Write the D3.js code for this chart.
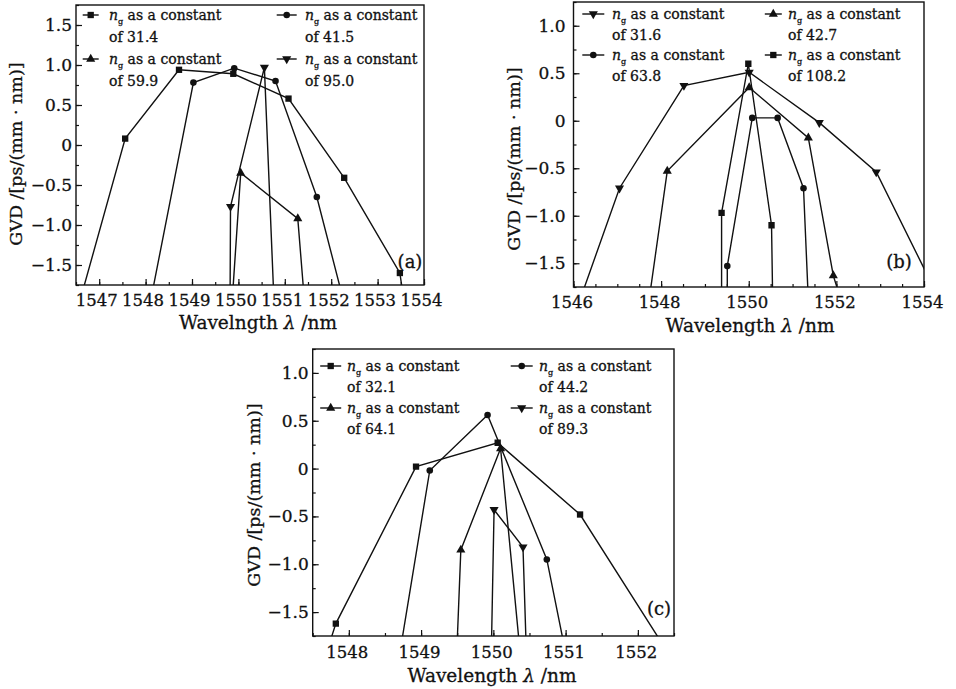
<!DOCTYPE html>
<html>
<head>
<meta charset="utf-8">
<script src="https://cdnjs.cloudflare.com/ajax/libs/d3/7.8.5/d3.min.js"></script>
<style>
body { margin: 0; background: #fff; }
svg { font-family: "DejaVu Serif", serif; }
svg text { stroke: #111; stroke-width: 0.3px; }
</style>
</head>
<body>
<script>
// ---- data (points below -1.75 are the clipped line ends) ----

// panel (a)
var ngA = ["31.4", "41.5", "59.9", "95.0"];
var wlA = [
    [1546.56, 1547.56, 1548.72, 1549.89, 1551.08, 1552.28, 1553.48, 1553.58],
    [1548.09, 1549.03, 1549.91, 1550.80, 1551.69, 1552.29],
    [1549.86, 1550.05, 1551.28, 1551.43],
    [1549.82, 1549.83, 1550.56, 1550.77]
];
var gvdA = [
    [-2.0, 0.08, 0.94, 0.89, 0.58, -0.41, -1.60, -2.0],
    [-2.0, 0.78, 0.96, 0.80, -0.65, -2.0],
    [-2.0, -0.35, -0.92, -2.0],
    [-2.0, -0.77, 0.97, -2.0]
];
var xTicksA = [1547, 1548, 1549, 1550, 1551, 1552, 1553, 1554];
var yTicksA = [-1.5, -1.0, -0.5, 0, 0.5, 1.0, 1.5];

// panel (b)
var ngB = ["31.6", "42.7", "63.8", "108.2"];
var wlB = [
    [1546.06, 1547.05, 1548.52, 1550.01, 1551.61, 1552.91, 1554.48],
    [1547.69, 1548.14, 1550.01, 1551.36, 1551.93, 1552.18],
    [1549.51, 1549.51, 1550.08, 1550.66, 1551.25, 1551.37],
    [1549.38, 1549.38, 1549.99, 1550.52, 1550.55]
];
var gvdB = [
    [-2.0, -0.71, 0.37, 0.51, -0.02, -0.54, -2.0],
    [-2.0, -0.53, 0.35, -0.18, -1.63, -2.0],
    [-2.0, -1.53, 0.03, 0.03, -0.71, -2.0],
    [-2.0, -0.97, 0.60, -1.10, -2.0]
];
var xTicksB = [1546, 1548, 1550, 1552, 1554];
var yTicksB = [-1.5, -1.0, -0.5, 0, 0.5, 1.0];

// panel (c)
var ngC = ["32.1", "44.2", "64.1", "89.3"];
var wlC = [
    [1547.66, 1547.82, 1548.93, 1550.06, 1551.20, 1552.48],
    [1548.69, 1549.12, 1549.92, 1550.74, 1551.02],
    [1549.49, 1549.55, 1550.10, 1550.38],
    [1549.97, 1550.01, 1550.41, 1550.46]
];
var gvdC = [
    [-2.0, -1.62, 0.02, 0.27, -0.48, -2.0],
    [-2.0, -0.02, 0.56, -0.95, -2.0],
    [-2.0, -0.85, 0.21, -2.0],
    [-2.0, -0.43, -0.82, -2.0]
];
var xTicksC = [1548, 1549, 1550, 1551, 1552];
var yTicksC = [-1.5, -1.0, -0.5, 0, 0.5, 1.0];

// ---- layout ----
var svg = d3.select('body').append('svg')
    .attr('width', 956)
    .attr('height', 689)

var ink = "#111";

var panels = [
    { id: "a", ng: ngA, wl: wlA, gvd: gvdA, xt: xTicksA, yt: yTicksA,
      left: 76, top: 5, right: 424, bottom: 285, xdom: [1546.5, 1554], ydom: [-1.75, 1.75],
      sym: ["square", "circle", "up", "down"], xTitle: "Wavelngth", titleX: 258, titleY: 329,
      xPad: 9, yPad: 4, labDx: -3, yTitleX: 16, yTitleY: 154, tag: [410, 262],
      legX: [90.7, 286.7], legHalf: [8, 10], legTx: [109, 305], legY: [15, 59], legGap: 21.5 },
    { id: "b", ng: ngB, wl: wlB, gvd: gvdB, xt: xTicksB, yt: yTicksB,
      left: 573.5, top: 2, right: 924, bottom: 287, xdom: [1546, 1554], ydom: [-1.75, 1.25],
      sym: ["down", "up", "circle", "square"], xTitle: "Wavelength", titleX: 750, titleY: 332,
      xPad: 9, yPad: 8, labDx: -2, yTitleX: 514, yTitleY: 159, tag: [899, 262],
      legX: [593.3, 773.3], legHalf: [11, 8.5], legTx: [612, 788], legY: [14, 55], legGap: 20.5 },
    { id: "c", ng: ngC, wl: wlC, gvd: gvdC, xt: xTicksC, yt: yTicksC,
      left: 312.7, top: 349, right: 674, bottom: 636, xdom: [1547.5, 1552.5], ydom: [-1.75, 1.25],
      sym: ["square", "circle", "up", "down"], xTitle: "Wavelength", titleX: 492, titleY: 682,
      xPad: 10, yPad: 4, labDx: -2, yTitleX: 254, yTitleY: 495, tag: [659, 609],
      legX: [330.7, 521.7], legHalf: [10.5, 11], legTx: [347, 539], legY: [366, 408], legGap: 21 }
];

function symPath(name) {
    var t = { square: d3.symbolSquare, circle: d3.symbolCircle, up: d3.symbolTriangle, down: d3.symbolTriangle }[name];
    var size = name == "square" ? 40 : (name == "circle" ? 34 : 36);
    return d3.symbol().type(t).size(size)();
}

function fmt(d) {
    return d === 0 ? "0" : d3.format(".1f")(d);
}

panels.forEach(function (p) {
    var x = d3.scaleLinear().domain(p.xdom).range([p.left, p.right]);
    var y = d3.scaleLinear().domain(p.ydom).range([p.bottom, p.top]);

    // clip
    svg.append('clipPath').attr('id', 'clip' + p.id)
        .append('rect')
        .attr('x', p.left).attr('y', p.top)
        .attr('width', p.right - p.left).attr('height', p.bottom - p.top)

    // minor ticks
    var xMinor = d3.range(Math.ceil(p.xdom[0] * 2) / 2, p.xdom[1] + 0.01, 0.5);
    var yMinor = d3.range(-1.75, p.ydom[1] + 0.01, 0.25);
    svg.append('g').attr('transform', 'translate(0,' + p.bottom + ')')
        .call(d3.axisBottom(x).tickValues(xMinor).tickSize(-3).tickFormat(""))
        .call(function (g) { g.select('.domain').remove(); g.selectAll('line').attr('stroke', ink).attr('stroke-width', 1.2); })
    svg.append('g').attr('transform', 'translate(' + p.left + ',0)')
        .call(d3.axisLeft(y).tickValues(yMinor).tickSize(-3).tickFormat(""))
        .call(function (g) { g.select('.domain').remove(); g.selectAll('line').attr('stroke', ink).attr('stroke-width', 1.2); })

    // major ticks + labels
    var gx = svg.append('g').attr('transform', 'translate(0,' + p.bottom + ')')
        .call(d3.axisBottom(x).tickValues(p.xt).tickSize(-6).tickPadding(p.xPad).tickFormat(d3.format("d")))
    gx.select('.domain').remove();
    gx.selectAll('line').attr('stroke', ink).attr('stroke-width', 1.2);
    gx.selectAll('text').attr('font-size', 16.5).attr('font-family', '"DejaVu Serif", serif')
        .attr('fill', ink).attr('dx', p.labDx)

    var gy = svg.append('g').attr('transform', 'translate(' + p.left + ',0)')
        .call(d3.axisLeft(y).tickValues(p.yt).tickSize(-6).tickPadding(p.yPad).tickFormat(fmt))
    gy.select('.domain').remove();
    gy.selectAll('line').attr('stroke', ink).attr('stroke-width', 1.2);
    gy.selectAll('text').attr('font-size', 17).attr('font-family', '"DejaVu Serif", serif').attr('fill', ink)

    // frame
    svg.append('rect')
        .attr('x', p.left).attr('y', p.top)
        .attr('width', p.right - p.left).attr('height', p.bottom - p.top)
        .attr('fill', 'none').attr('stroke', ink).attr('stroke-width', 1.4)

    // series lines and markers
    var plot = svg.append('g').attr('clip-path', 'url(#clip' + p.id + ')')
    var line = d3.line().x(function (d) { return x(d[0]); }).y(function (d) { return y(d[1]); });
    p.wl.forEach(function (wl, i) {
        var pts = wl.map(function (w, j) { return [w, p.gvd[i][j]]; });
        plot.append('path').datum(pts)
            .attr('d', line)
            .attr('fill', 'none').attr('stroke', ink).attr('stroke-width', 1.4)
        plot.selectAll(null).data(pts).enter().append('path')
            .attr('d', symPath(p.sym[i]))
            .attr('transform', function (d) {
                return 'translate(' + x(d[0]) + ',' + y(d[1]) + ')' + (p.sym[i] == "down" ? ' rotate(180)' : '');
            })
            .attr('fill', ink)
    })

    // legend
    p.ng.forEach(function (ng, i) {
        var col = i % 2, row = Math.floor(i / 2);
        var cx = p.legX[col], cy = p.legY[row];
        svg.append('line')
            .attr('x1', cx - p.legHalf[col]).attr('x2', cx + p.legHalf[col])
            .attr('y1', cy).attr('y2', cy)
            .attr('stroke', ink).attr('stroke-width', 1.4)
        svg.append('path')
            .attr('d', symPath(p.sym[i]))
            .attr('transform', 'translate(' + cx + ',' + cy + ')' + (p.sym[i] == "down" ? ' rotate(180)' : ''))
            .attr('fill', ink)
        var t = svg.append('text')
            .attr('x', p.legTx[col]).attr('y', cy + 5)
            .attr('font-size', 14).attr('fill', ink)
        t.append('tspan').attr('font-style', 'italic').text('n')
        t.append('tspan').attr('font-size', 8).attr('dy', 4).text('g')
        t.append('tspan').attr('dy', -4).text(' as a constant')
        svg.append('text')
            .attr('x', p.legTx[col]).attr('y', cy + 5 + p.legGap)
            .attr('font-size', 14).attr('fill', ink)
            .text('of ' + ng)
    })

    // axis titles
    var xt = svg.append('text')
        .attr('x', p.titleX).attr('y', p.titleY)
        .attr('text-anchor', 'middle').attr('font-size', 18.5).attr('fill', ink)
    xt.append('tspan').text(p.xTitle + ' ')
    xt.append('tspan').attr('font-style', 'italic').text('λ')
    xt.append('tspan').text(' /nm')

    svg.append('text')
        .attr('transform', 'translate(' + p.yTitleX + ',' + p.yTitleY + ') rotate(-90)')
        .attr('text-anchor', 'middle').attr('dy', '0.35em')
        .attr('font-size', 17.5).attr('fill', ink)
        .text('GVD /[ps/(mm · nm)]')

    // panel tag
    svg.append('text')
        .attr('x', p.tag[0]).attr('y', p.tag[1]).attr('dy', '0.35em')
        .attr('text-anchor', 'middle').attr('font-size', 18).attr('fill', ink)
        .text('(' + p.id + ')')
})
</script>
</body>
</html>
